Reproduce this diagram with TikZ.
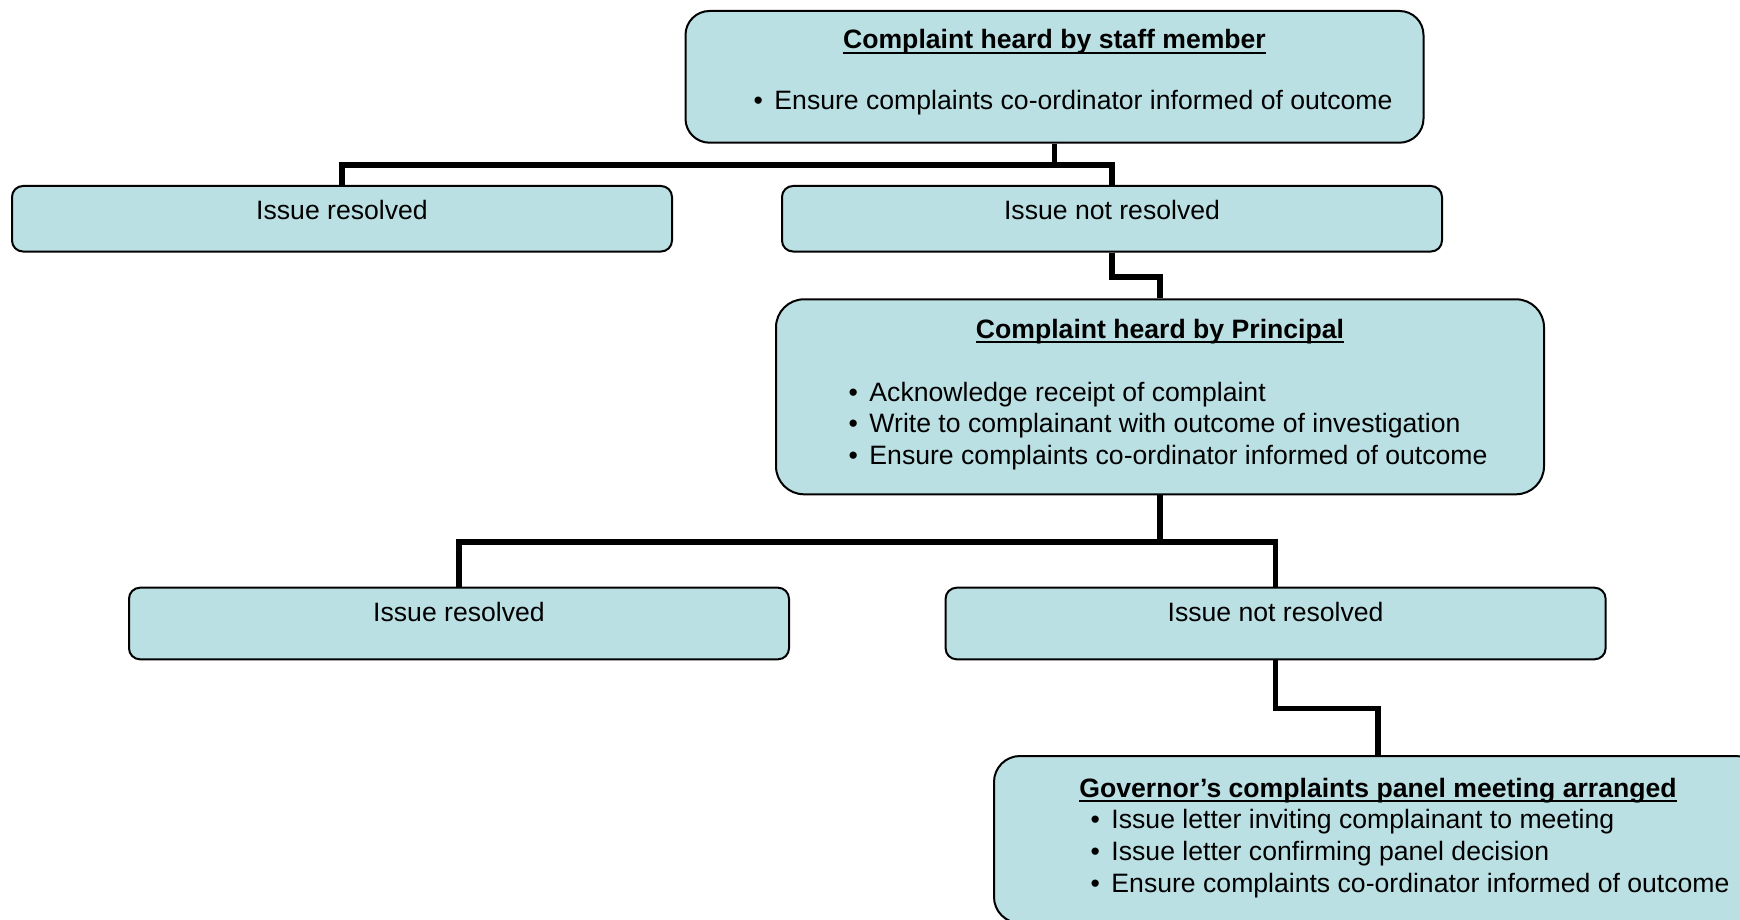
\documentclass[tikz,border=0pt]{standalone}
\usepackage{fontspec}
\setmainfont{Liberation Sans}

\definecolor{boxfill}{RGB}{186,224,228}
\newcommand{\ultitle}[1]{\setbox0=\hbox{\bfseries #1}\rlap{\rule[-5pt]{\wd0}{2pt}}\box0}
\newcommand{\bitem}[1]{\hbox to 21pt{\textbullet\hfil}#1}

\begin{document}
\begin{tikzpicture}[
    x=1pt, y=-1pt,
    every node/.style={draw, fill=boxfill, line width=2pt, rounded corners=11pt, inner sep=0pt, anchor=north west, font=\fontsize{26.6pt}{31.8pt}\selectfont},
    link/.style={line width=5.5pt}
]
\useasboundingbox (0,0) rectangle (1740,920);

\node (staff) [rounded corners=24pt] at (684.5,10) {\parbox[c][131.7pt][t]{738pt}{\centering\rule{0pt}{37.7pt}\ultitle{Complaint heard by staff member}\par
    \vspace{29pt}\raggedright
    \hspace*{68pt}\bitem{Ensure complaints co-ordinator informed of outcome}\par}};
\node (resolvedA) at (11,185) {\parbox[c][65.5pt][t]{660pt}{\centering\rule{0pt}{33.3pt}Issue resolved}};
\node (notresolvedA) at (781,185) {\parbox[c][65.5pt][t]{660pt}{\centering\rule{0pt}{33.3pt}Issue not resolved}};
\node (principal) [rounded corners=28pt] at (775,298.3) {\parbox[c][195pt][t]{768pt}{\centering\rule{0pt}{39pt}\ultitle{Complaint heard by Principal}\par
    \vspace{31pt}\raggedright
    \hspace*{72.5pt}\bitem{Acknowledge receipt of complaint}\par
    \hspace*{72.5pt}\bitem{Write to complainant with outcome of investigation}\par
    \hspace*{72.5pt}\bitem{Ensure complaints co-ordinator informed of outcome}\par}};
\node (resolvedB) at (128,586.7) {\parbox[c][71.6pt][t]{660pt}{\centering\rule{0pt}{33.3pt}Issue resolved}};
\node (notresolvedB) at (944.6,586.7) {\parbox[c][71.6pt][t]{660pt}{\centering\rule{0pt}{33.3pt}Issue not resolved}};
\node (governor) [rounded corners=26pt] at (993,755) {\parbox[c][167pt][t]{768pt}{\centering\rule{0pt}{41pt}\ultitle{Governor’s complaints panel meeting arranged}\par
    \raggedright
    \hspace*{96.5pt}\bitem{Issue letter inviting complainant to meeting}\par
    \hspace*{96.5pt}\bitem{Issue letter confirming panel decision}\par
    \hspace*{96.5pt}\bitem{Ensure complaints co-ordinator informed of outcome}\par}};

% connectors
\path (staff.south) ++(0,21.5) coordinate (splitA);
\draw[link] (staff.south) -- (splitA);
\draw[link] (resolvedA.north) |- (splitA) -| (notresolvedA.north);
\draw[link] (notresolvedA.south) -- ++(0,24.3) -| (principal.north);

\path (principal.south) ++(0,46.7) coordinate (splitB);
\draw[link] (principal.south) -- (splitB);
\draw[link] (resolvedB.north) |- (splitB) -| (notresolvedB.north);
\draw[link] (notresolvedB.south) -- ++(0,48.4) -| (governor.north);

\end{tikzpicture}
\end{document}
